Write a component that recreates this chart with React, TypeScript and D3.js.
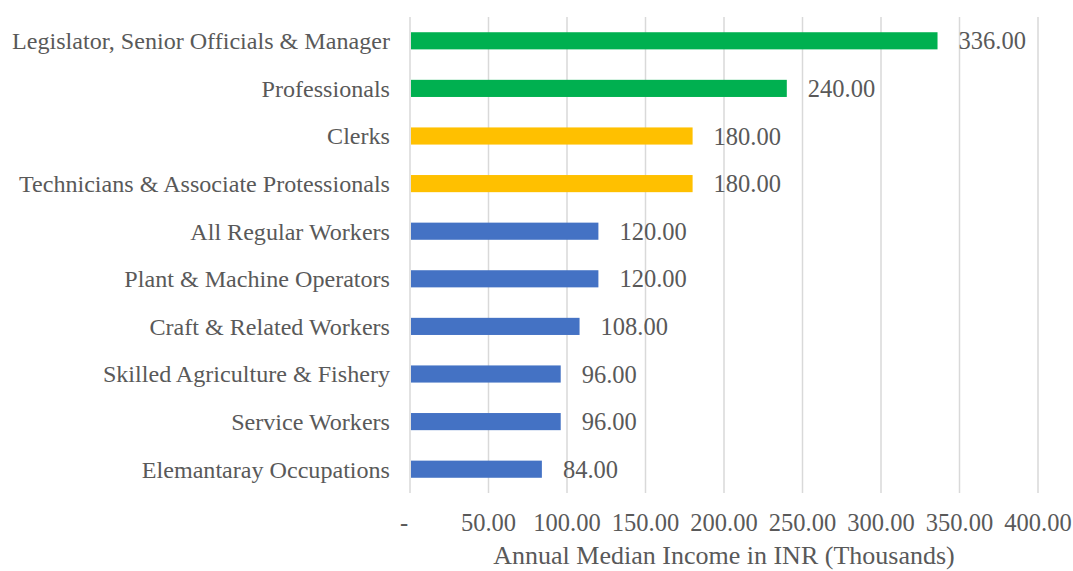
import React, { useRef, useEffect } from 'react';
import { select, scaleBand, scaleLinear } from 'd3';

const categories = [
  'Legislator, Senior Officials & Manager',
  'Professionals',
  'Clerks',
  'Technicians & Associate Protessionals',
  'All Regular Workers',
  'Plant & Machine Operators',
  'Craft & Related Workers',
  'Skilled Agriculture & Fishery',
  'Service Workers',
  'Elemantaray Occupations',
];
const incomes = [336, 240, 180, 180, 120, 120, 108, 96, 96, 84];
const barColors = [
  '#00B050', '#00B050', '#FFC000', '#FFC000', '#4472C4',
  '#4472C4', '#4472C4', '#4472C4', '#4472C4', '#4472C4',
];
const xTicks = [0, 50, 100, 150, 200, 250, 300, 350, 400];
const xTitle = 'Annual Median Income in INR (Thousands)';

const W = 1073;
const H = 571;
const margin = { top: 17, right: 35, bottom: 78, left: 410 };
const textColor = '#595959';
const font = '"Liberation Serif", "Times New Roman", serif';

const BarChart: React.FC = () => {
  const svgRef = useRef<SVGSVGElement>(null);

  useEffect(() => {
    const svg = select(svgRef.current as any);
    svg.selectAll('*').remove();

    const x = scaleLinear().domain([0, 400]).range([margin.left, W - margin.right]);
    const y = scaleBand()
      .domain(categories)
      .range([margin.top, H - margin.bottom])
      .paddingInner(0.64)
      .paddingOuter(0.32);

    const g = svg.append('g');

    // gridlines
    g.selectAll('.grid')
      .data(xTicks)
      .join('line')
      .attr('class', 'grid')
      .attr('x1', d => x(d))
      .attr('x2', d => x(d))
      .attr('y1', margin.top)
      .attr('y2', H - margin.bottom)
      .attr('stroke', '#d9d9d9')
      .attr('stroke-width', 1.5);

    // bars
    g.selectAll('.bar')
      .data(incomes)
      .join('rect')
      .attr('class', 'bar')
      .attr('x', x(0) + 1)
      .attr('y', (_, i) => y(categories[i]) as number)
      .attr('width', d => x(d) - x(0) - 1)
      .attr('height', y.bandwidth())
      .attr('fill', (_, i) => barColors[i]);

    // category labels
    g.selectAll('.cat')
      .data(categories)
      .join('text')
      .attr('class', 'cat')
      .attr('x', margin.left - 20)
      .attr('y', d => (y(d) as number) + y.bandwidth() / 2)
      .attr('dy', '0.35em')
      .attr('text-anchor', 'end')
      .attr('fill', textColor)
      .style('font-family', font)
      .style('font-size', '24.1px')
      .text(d => d);

    // value labels
    g.selectAll('.val')
      .data(incomes)
      .join('text')
      .attr('class', 'val')
      .attr('x', d => x(d) + 21)
      .attr('y', (_, i) => (y(categories[i]) as number) + y.bandwidth() / 2)
      .attr('dy', '0.35em')
      .attr('fill', textColor)
      .style('font-family', font)
      .style('font-size', '24.5px')
      .text(d => d.toFixed(2));

    // x tick labels
    g.selectAll('.tick')
      .data(xTicks)
      .join('text')
      .attr('class', 'tick')
      .attr('x', d => (d === 0 ? x(d) - 6 : x(d)))
      .attr('y', 531)
      .attr('text-anchor', 'middle')
      .attr('fill', textColor)
      .style('font-family', font)
      .style('font-size', '24.5px')
      .text(d => (d === 0 ? '-' : d.toFixed(2)));

    // axis title
    g.append('text')
      .attr('x', (x(0) + x(400)) / 2)
      .attr('y', 564)
      .attr('text-anchor', 'middle')
      .attr('fill', textColor)
      .style('font-family', font)
      .style('font-size', '26px')
      .text(xTitle);
  }, []);

  return (
    <svg
      width={W}
      height={H}
      role="img"
      ref={svgRef}
      style={{ position: 'absolute', left: 0, top: 0, background: '#fff' }}
    ></svg>
  );
};

export default function App() {
  return <BarChart />;
}
